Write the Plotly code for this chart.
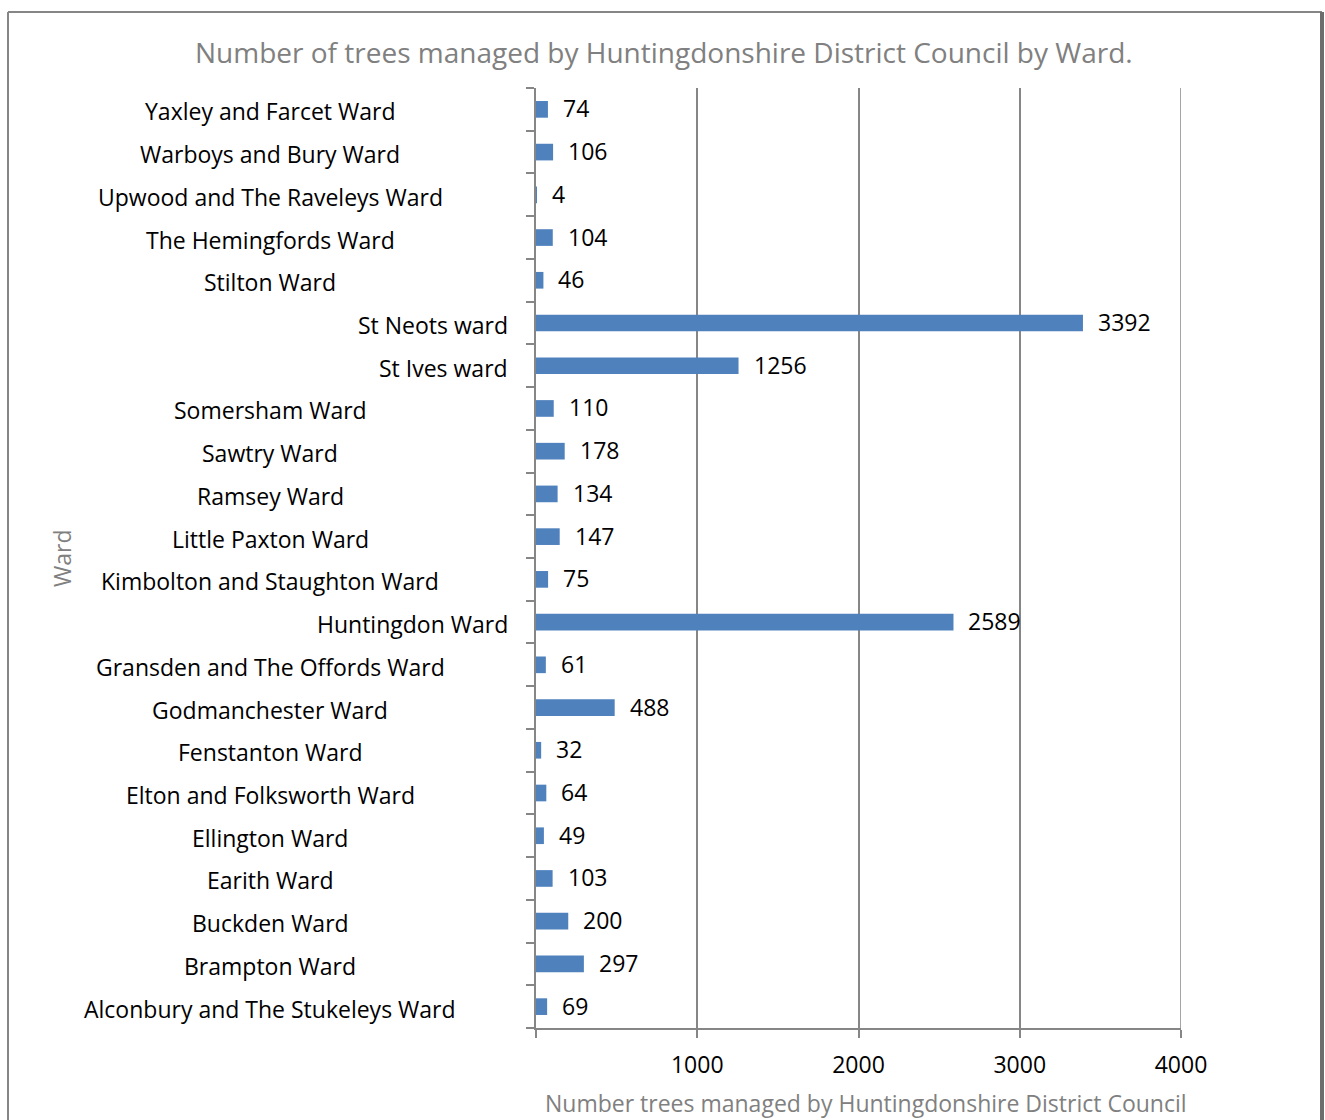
import plotly.graph_objects as go

wards = [
    "Alconbury and The Stukeleys Ward", "Brampton Ward", "Buckden Ward", "Earith Ward",
    "Ellington Ward", "Elton and Folksworth Ward", "Fenstanton Ward", "Godmanchester Ward",
    "Gransden and The Offords Ward", "Huntingdon Ward", "Kimbolton and Staughton Ward",
    "Little Paxton Ward", "Ramsey Ward", "Sawtry Ward", "Somersham Ward", "St Ives ward",
    "St Neots ward", "Stilton Ward", "The Hemingfords Ward", "Upwood and The Raveleys Ward",
    "Warboys and Bury Ward", "Yaxley and Farcet Ward",
]
trees = [69, 297, 200, 103, 49, 64, 32, 488, 61, 2589, 75, 147, 134, 178, 110, 1256,
         3392, 46, 104, 4, 106, 74]
x_ticks = [0, 1000, 2000, 3000, 4000]
x_tick_text = ["", "1000", "2000", "3000", "4000"]
right_aligned = {"St Neots ward", "St Ives ward", "Huntingdon Ward"}

W, H = 1325, 1120
L, R, T, B = 536, 144, 88, 92
pw, ph = W - L - R, H - T - B

FONT = "Open Sans"
LS = 23
GREY = "#808080"
AX = "#868686"


def px(x):
    return (x - L) / pw


def py(y):
    return (H - B - y) / ph


fig = go.Figure()
fig.add_trace(go.Bar(
    y=wards, x=trees, orientation="h",
    marker=dict(color="#4F81BD", line=dict(width=0)),
    hoverinfo="x+y",
))

ann = []
for w, v in zip(wards, trees):
    ann.append(dict(x=v, y=w, xref="x", yref="y", text=str(v), showarrow=False,
                    xanchor="left", xshift=13, yshift=1,
                    font=dict(family=FONT, size=LS, color="#000000")))
    if w in right_aligned:
        ann.append(dict(x=px(510), y=w, xref="paper", yref="y", text=w,
                        showarrow=False, xanchor="right", yshift=-2,
                        font=dict(family=FONT, size=LS, color="#000000")))
    else:
        ann.append(dict(x=px(270), y=w, xref="paper", yref="y", text=w,
                        showarrow=False, xanchor="center", yshift=-2,
                        font=dict(family=FONT, size=LS, color="#000000")))

ann.append(dict(x=px(664), y=py(52), xref="paper", yref="paper",
                text="Number of trees managed by Huntingdonshire District Council by Ward.",
                showarrow=False, xanchor="center", yanchor="middle",
                font=dict(family=FONT, size=28, color=GREY)))
ann.append(dict(x=px(866), y=py(1103), xref="paper", yref="paper",
                text="Number trees managed by Huntingdonshire District Council",
                showarrow=False, xanchor="center", yanchor="middle",
                font=dict(family=FONT, size=LS, color=GREY)))
ann.append(dict(x=px(62), y=py(558), xref="paper", yref="paper",
                text="Ward", textangle=-90, showarrow=False, xanchor="center", yanchor="middle",
                font=dict(family=FONT, size=LS, color=GREY)))

shapes = [
    dict(type="line", xref="paper", yref="paper", x0=px(8), x1=px(8),
         y0=py(12), y1=py(1130), line=dict(color=AX, width=2)),
    dict(type="line", xref="paper", yref="paper", x0=px(8), x1=px(1322),
         y0=py(12), y1=py(12), line=dict(color=AX, width=2)),
    dict(type="line", xref="paper", yref="paper", x0=px(1322), x1=px(1322),
         y0=py(12), y1=py(1130), line=dict(color="#6d6d6d", width=4)),
    dict(type="line", xref="x", yref="paper", x0=4000, x1=4000, y0=0, y1=1,
         line=dict(color=AX, width=1.5)),
]

fig.update_layout(
    width=W, height=H,
    margin=dict(l=L, r=R, t=T, b=B, pad=0),
    paper_bgcolor="white", plot_bgcolor="white",
    showlegend=False, bargap=0.61,
    annotations=ann, shapes=shapes,
    font=dict(family=FONT, size=LS, color="#000000"),
    xaxis=dict(range=[0, 4000], tickvals=x_ticks, ticktext=x_tick_text,
               showgrid=True, gridcolor=AX, gridwidth=1.5,
               showline=True, linecolor=AX, linewidth=2,
               ticks="outside", ticklen=8, tickcolor=AX, tickwidth=1.5,
               ticklabelstandoff=7,
               tickfont=dict(family=FONT, size=LS, color="#000000"),
               zeroline=False, fixedrange=True),
    yaxis=dict(type="category", showticklabels=False, showgrid=False,
               showline=True, linecolor=AX, linewidth=2,
               ticks="outside", ticklen=8, tickcolor=AX, tickwidth=1.5,
               tickson="boundaries", zeroline=False, fixedrange=True),
)

fig.write_html("out.html", config={"displayModeBar": False},
               post_script="document.body.style.margin='0';document.body.style.overflow='hidden';")
